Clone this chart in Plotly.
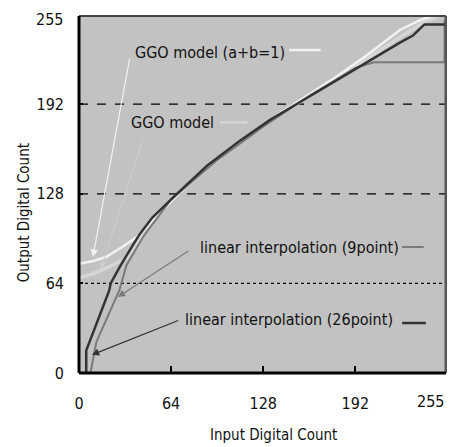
import plotly.graph_objects as go

# ---- data ----
ticks = [0, 64, 128, 192, 255]
tick_labels = ["0", "64", "128", "192", "255"]

# GGO model (a+b=1)  (white)
ggo_ab_x = [0, 10, 19, 30, 40, 50, 68, 90, 112, 133, 151, 175, 200, 223, 237, 245]
ggo_ab_y = [78, 80, 83, 90, 97, 108, 127, 148, 166, 181, 193, 209, 227, 245, 252, 255]

# GGO model (light gray)
ggo_x = [0, 10, 19, 33, 42, 51, 68, 90, 112, 133, 151, 175, 200, 223, 240, 250]
ggo_y = [68, 71, 75, 82, 95, 109, 127, 147, 165, 180, 192, 208, 225, 240, 251, 255]

# linear interpolation (9point)  (medium gray)
lin9_x = [8, 12, 28, 33, 45, 64, 96, 128, 160, 192, 205, 254, 254]
lin9_y = [0, 22, 59, 77, 98, 124, 152, 176, 198, 218, 222, 222, 252]

# linear interpolation (26point)  (dark)
lin26_x = [5, 5, 8, 21, 22, 29, 42, 51, 68, 89, 112, 133, 151, 195, 209, 223, 232, 240, 255]
lin26_y = [0, 16, 24, 59, 64, 77, 99, 111, 128, 148, 166, 181, 192, 219, 227, 236, 241, 249, 249]

labels = ["GGO model (a+b=1)", "GGO model",
          "linear interpolation (9point)", "linear interpolation (26point)"]

FONT = "DejaVu Sans Condensed, DejaVu Sans, sans-serif"
TXT = "#111111"

fig = go.Figure()
fig.add_trace(go.Scatter(x=ggo_x, y=ggo_y, mode="lines",
                         line=dict(color="#d6d6d6", width=3.5), showlegend=False))
fig.add_trace(go.Scatter(x=ggo_ab_x, y=ggo_ab_y, mode="lines",
                         line=dict(color="#f2f2f2", width=2.5), showlegend=False))
fig.add_trace(go.Scatter(x=lin9_x, y=lin9_y, mode="lines",
                         line=dict(color="#7a7a7a", width=2), showlegend=False))
fig.add_trace(go.Scatter(x=lin26_x, y=lin26_y, mode="lines",
                         line=dict(color="#333333", width=2.5), showlegend=False))

shapes = []
# horizontal reference lines
for t in ticks[1:-1]:
    shapes.append(dict(type="line", xref="x", yref="y", x0=0, x1=255, y0=t, y1=t,
                       line=dict(color="black", width=1.2, dash="dot" if t == 64 else "dash"),
                       layer="below"))
# frame: top and right dark gray, left and bottom black
shapes.append(dict(type="line", xref="paper", yref="paper", x0=0, x1=1, y0=1, y1=1,
                   line=dict(color="#444444", width=2)))
shapes.append(dict(type="line", xref="paper", yref="paper", x0=1, x1=1, y0=0, y1=1,
                   line=dict(color="#555555", width=3)))
shapes.append(dict(type="line", xref="paper", yref="paper", x0=0, x1=0, y0=0, y1=1,
                   line=dict(color="black", width=3)))
shapes.append(dict(type="line", xref="paper", yref="paper", x0=0, x1=1, y0=0, y1=0,
                   line=dict(color="black", width=3)))

# label key-lines
key = [("#f2f2f2", 146, 168, 230.7, 2.5),
       ("#d6d6d6", 98, 117, 179, 2.5),
       ("#7a7a7a", 224.5, 239.5, 90, 2),
       ("#333333", 224.5, 241, 35.7, 2.5)]
for c, xa, xb, yy, w in key:
    shapes.append(dict(type="line", xref="x", yref="y", x0=xa, x1=xb, y0=yy, y1=yy,
                       line=dict(color=c, width=w)))

annotations = []
text_pos = [(37.5, 229), (34.7, 179), (82.6, 90), (72.2, 37.9)]
for (tx, ty), lab in zip(text_pos, labels):
    annotations.append(dict(x=tx, y=ty, xref="x", yref="y", text=lab, showarrow=False,
                            xanchor="left", yanchor="middle",
                            font=dict(family=FONT, size=16, color=TXT)))

arrows = [("#f2f2f2", 35.4, 225.7, 9.7, 83, 1.2),
          ("#d0d0d0", 45.1, 168.6, 15.3, 75, 1.0),
          ("#7a7a7a", 77, 87.9, 27, 54.3, 1.2),
          ("#333333", 70, 37.9, 9, 13, 1.2)]
for c, ax, ay, x, y, w in arrows:
    annotations.append(dict(x=x, y=y, xref="x", yref="y", ax=ax, ay=ay, axref="x", ayref="y",
                            text="", showarrow=True, arrowhead=2, arrowsize=1.2,
                            arrowwidth=w, arrowcolor=c))

# end tick labels (255) drawn as annotations so they stay inside the figure
annotations.append(dict(x=ticks[-1], y=0, xref="x", yref="paper", text=tick_labels[-1],
                        showarrow=False, xanchor="right", yanchor="top", xshift=0, yshift=-17,
                        font=dict(family=FONT, size=16, color=TXT)))
annotations.append(dict(x=0, y=ticks[-1], xref="paper", yref="y", text=tick_labels[-1],
                        showarrow=False, xanchor="right", yanchor="middle", xshift=-14, yshift=-3,
                        font=dict(family=FONT, size=16, color=TXT)))

# axis titles
annotations.append(dict(x=0.53, y=-0.174, xref="paper", yref="paper", text="Input Digital Count",
                        showarrow=False, xanchor="center", yanchor="middle",
                        font=dict(family=FONT, size=15, color=TXT)))
annotations.append(dict(x=-0.15, y=0.45, xref="paper", yref="paper", text="Output Digital Count",
                        showarrow=False, textangle=-90, xanchor="center", yanchor="middle",
                        font=dict(family=FONT, size=15, color=TXT)))

# the page body adds an 8px margin, so the figure is sized to fit the remaining window
fig.update_layout(
    width=447, height=439,
    margin=dict(l=71, r=9, t=8, b=74),
    paper_bgcolor="white", plot_bgcolor="#c2c2c2",
    shapes=shapes, annotations=annotations,
    showlegend=False,
)
fig.update_xaxes(range=[0, 255], tickvals=ticks[:-1], ticktext=tick_labels[:-1], showgrid=False,
                 zeroline=False, showline=False, ticks="inside", ticklen=7, tickwidth=2,
                 tickcolor="black", ticklabelstandoff=19,
                 tickfont=dict(family=FONT, size=16, color=TXT))
fig.update_yaxes(range=[0, 255], tickvals=ticks[:-1], ticktext=tick_labels[:-1], showgrid=False,
                 zeroline=False, showline=False, ticks="inside", ticklen=4, tickwidth=2,
                 tickcolor="black", ticklabelstandoff=14,
                 tickfont=dict(family=FONT, size=16, color=TXT))

fig.write_html("out.html")
